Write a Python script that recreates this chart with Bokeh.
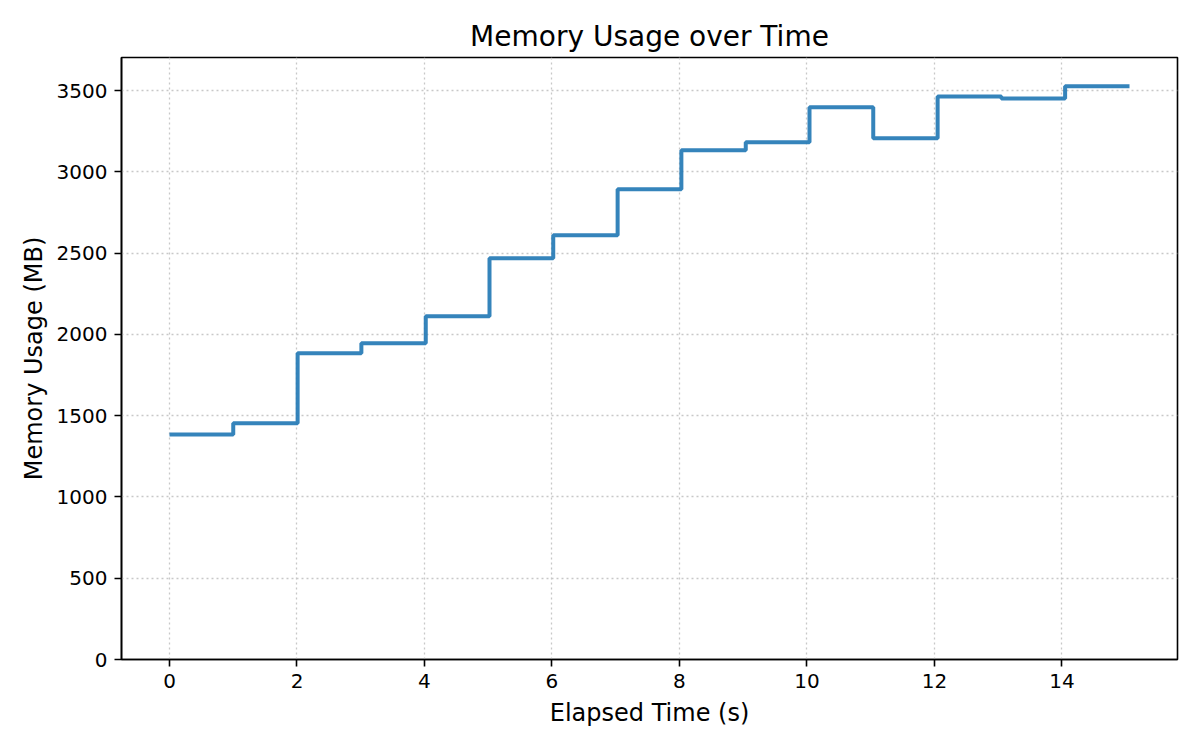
from bokeh.plotting import figure
from bokeh.models import Range1d, FixedTicker
from bokeh.embed import file_html
from bokeh.resources import INLINE

# sampled memory (MB) at roughly one-second intervals
elapsed_s = [0.0, 1.00, 2.01, 3.01, 4.02, 5.02, 6.02, 7.03, 8.03, 9.04,
             10.04, 11.04, 12.05, 13.05, 14.05, 15.06]
memory_mb = [1384, 1454, 1884, 1946, 2112, 2468, 2610, 2893, 3133, 3182,
             3397, 3207, 3463, 3451, 3527, 3527]
x_ticks = [0, 2, 4, 6, 8, 10, 12, 14]
y_ticks = [0, 500, 1000, 1500, 2000, 2500, 3000, 3500]

FONT = "DejaVu Sans"

pad = (elapsed_s[-1] - elapsed_s[0]) * 0.05
p = figure(width=1184, height=734, output_backend="svg", toolbar_location=None,
           title="Memory Usage over Time",
           x_range=Range1d(elapsed_s[0] - pad, elapsed_s[-1] + pad),
           y_range=Range1d(0, max(memory_mb) * 1.05),
           min_border_left=121, min_border_right=7,
           min_border_top=57, min_border_bottom=75)

p.step(elapsed_s, memory_mb, mode="after", line_color="#1f77b4",
       line_alpha=0.9, line_width=4)

p.title.align = "center"
p.title.text_font = FONT
p.title.text_font_size = "28px"
p.title.text_font_style = "normal"
p.title.text_color = "black"
p.title.standoff = 10

p.outline_line_color = "black"
p.outline_line_width = 1.6
p.outline_line_alpha = 1

p.xaxis.ticker = FixedTicker(ticks=x_ticks)
p.yaxis.ticker = FixedTicker(ticks=y_ticks)
p.xaxis.axis_label = "Elapsed Time (s)"
p.yaxis.axis_label = "Memory Usage (MB)"

for ax in (p.xaxis, p.yaxis):
    ax.axis_line_color = "black"
    ax.axis_line_width = 1.6
    ax.major_tick_line_color = "black"
    ax.major_tick_line_width = 1.6
    ax.major_tick_out = 7
    ax.major_tick_in = 0
    ax.minor_tick_line_color = None
    ax.major_label_text_font = FONT
    ax.major_label_text_font_size = "20px"
    ax.major_label_text_color = "black"
    ax.axis_label_text_font = FONT
    ax.axis_label_text_font_size = "24px"
    ax.axis_label_text_font_style = "normal"
    ax.axis_label_text_color = "black"
p.xaxis.major_label_standoff = 7
p.yaxis.major_label_standoff = 7
p.xaxis.axis_label_standoff = 8
p.yaxis.axis_label_standoff = 6

p.grid.grid_line_color = "#c8c8c8"
p.grid.grid_line_width = 1.3
p.grid.grid_line_dash = "2 3"

open("out.html", "w").write(file_html(p, INLINE))
